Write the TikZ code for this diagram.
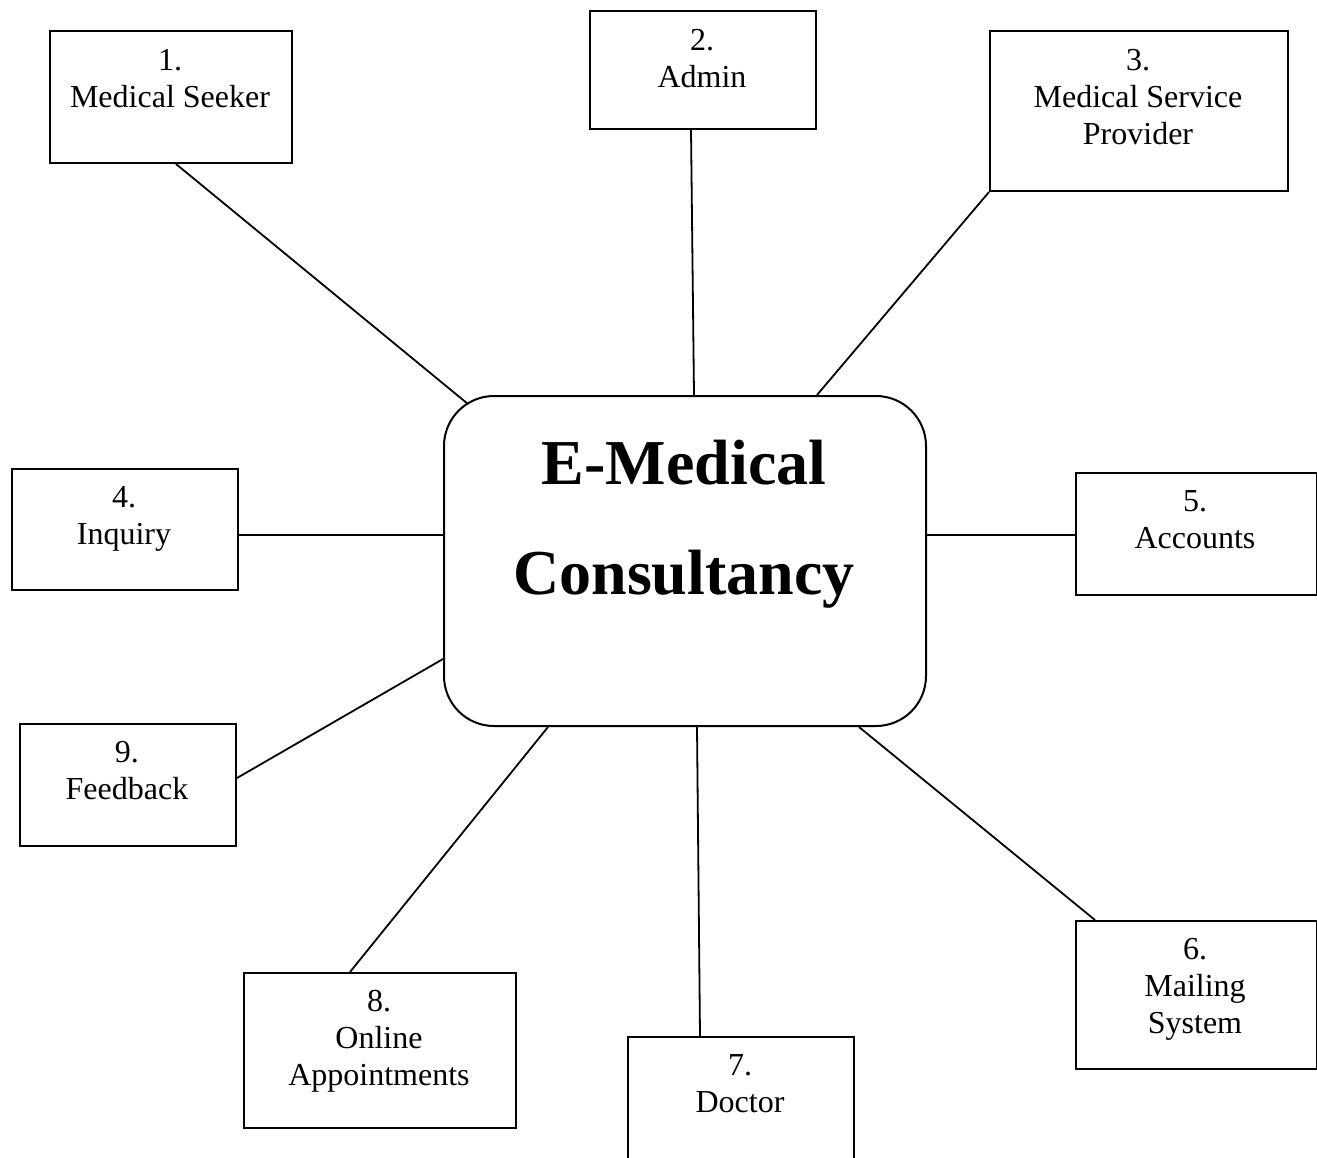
\documentclass[tikz,border=0pt]{standalone}
\usepackage{fontspec}
\setmainfont{Liberation Serif}
\usetikzlibrary{calc}

\tikzset{
  box/.style={draw, line width=2pt, rectangle, inner sep=0pt, anchor=north west},
  hub/.style={draw, line width=2pt, rectangle, rounded corners=50pt, inner sep=0pt, anchor=north west},
  caption/.style={inner sep=0pt, anchor=base, font=\fontsize{32}{37}\selectfont},
  link/.style={line width=1.8pt}
}
% caption text: first baseline sits at the anchor point
\newcommand{\boxtext}[2][9cm]{\parbox[t]{#1}{\centering #2}}

\begin{document}
\begin{tikzpicture}[x=1pt,y=-1pt]
\useasboundingbox (0,0) rectangle (1317,1157);

% central system
\node[hub, minimum width=482pt, minimum height=330pt] (hub) at (443,395) {};
\node[inner sep=0pt, anchor=base, font=\fontsize{64}{110}\selectfont\bfseries] (title) at (684,484)
  {\boxtext[16cm]{\mbox{E-Medical}\\Consultancy}};

% surrounding modules
\node[box, minimum width=242pt, minimum height=132pt] (m1) at (49,30) {};
\node[caption] (t1) at (170,70) {\boxtext{1.\\Medical Seeker}};

\node[box, minimum width=226pt, minimum height=118pt] (m2) at (589,10) {};
\node[caption] (t2) at (702,50) {\boxtext{2.\\Admin}};

\node[box, minimum width=298pt, minimum height=160pt] (m3) at (989,30) {};
\node[caption] (t3) at (1138,70) {\boxtext{3.\\Medical Service\\Provider}};

\node[box, minimum width=226pt, minimum height=121pt] (m4) at (11,468) {};
\node[caption] (t4) at (124,507) {\boxtext{4.\\Inquiry}};

\node[box, minimum width=241pt, minimum height=122pt] (m5) at (1075,472) {};
\node[caption] (t5) at (1195,511) {\boxtext{5.\\Accounts}};

\node[box, minimum width=241pt, minimum height=148pt] (m6) at (1075,920) {};
\node[caption] (t6) at (1195,959) {\boxtext{6.\\Mailing\\System}};

\node[box, minimum width=226pt, minimum height=150pt] (m7) at (627,1036) {};
\node[caption] (t7) at (740,1075) {\boxtext{7.\\Doctor}};

\node[box, minimum width=272pt, minimum height=155pt] (m8) at (243,972) {};
\node[caption] (t8) at (379,1011) {\boxtext{8.\\Online\\Appointments}};

\node[box, minimum width=216pt, minimum height=122pt] (m9) at (19,723) {};
\node[caption] (t9) at (127,762) {\boxtext{9.\\Feedback}};

% connectors
\draw[link] (m1.south -| 176,0) -- (468,404);
\draw[link] (m2.south -| 691,0) -- (hub.north -| 694,0);
\draw[link] (m3.south west) -- (hub.north -| 817,0);
\draw[link] (m4.east |- 0,535) -- (hub.west |- 0,535);
\draw[link] (hub.east |- 0,535) -- (m5.west |- 0,535);
\draw[link] (hub.south -| 859,0) -- (m6.north -| 1095,0);
\draw[link] (hub.south -| 697,0) -- (m7.north -| 700,0);
\draw[link] (hub.south -| 548,0) -- (m8.north -| 350,0);
\draw[link] (m9.east |- 0,778) -- (hub.west |- 0,659);
\end{tikzpicture}
\end{document}
